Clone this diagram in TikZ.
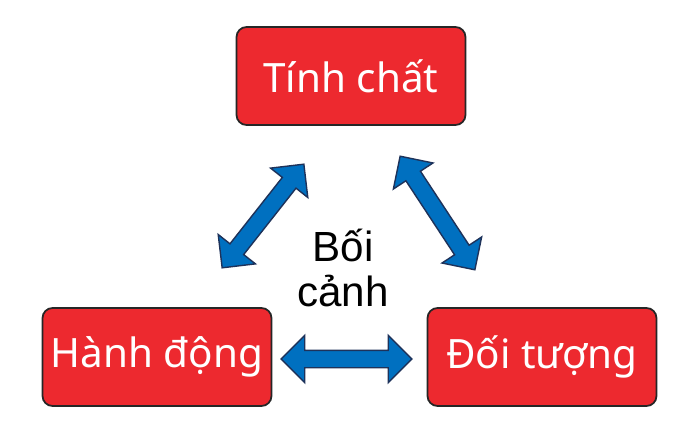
\documentclass[tikz,border=0pt]{standalone}
\usepackage{fontspec}
\setmainfont{Liberation Sans}
\newfontfamily\boxfont{Noto Sans}
\usetikzlibrary{shapes.arrows}
\definecolor{boxred}{RGB}{237,41,47}
\definecolor{arrowblue}{RGB}{0,112,192}
\definecolor{arrowline}{RGB}{30,50,90}
\tikzset{
  topic/.style={draw=black!85, line width=1pt, fill=boxred, rounded corners=0.2cm,
    minimum width=4.58cm, minimum height=1.96cm, text=white,
    font=\boxfont\fontsize{23}{28}\selectfont},
  link/.style={double arrow, draw=arrowline, fill=arrowblue, line width=0.8pt,
    inner xsep=0pt, inner ysep=0.16cm, double arrow head extend=0.3cm, sloped}
}
\begin{document}
\begin{tikzpicture}[x=0.02cm, y=-0.02cm]
  \useasboundingbox (0,0) rectangle (700,429);
  \node[topic] (tinh) at (351,76) {Tính chất};
  \node[topic] (hanh) at (157,357) {Hành động};
  \node[topic] (doi) at (542,357) {Đối tượng};
  \node[align=center, font=\fontsize{24}{25.6}\selectfont] (ctx) at (343,268) {Bối\\cảnh};

  % arrow ends
  \coordinate (l1) at (222,268);
  \coordinate (l2) at (304,164);
  \coordinate (r1) at (400,156);
  \coordinate (r2) at (475,270);
  \coordinate (b1) at (281,359);
  \coordinate (b2) at (412,359);

  \path (l1) -- (l2) node[link, midway, minimum height=2.64cm] (linkl) {};
  \path (r1) -- (r2) node[link, midway, minimum height=2.72cm] (linkr) {};
  \path (b1) -- (b2) node[link, midway, minimum height=2.62cm] (linkb) {};
\end{tikzpicture}
\end{document}
